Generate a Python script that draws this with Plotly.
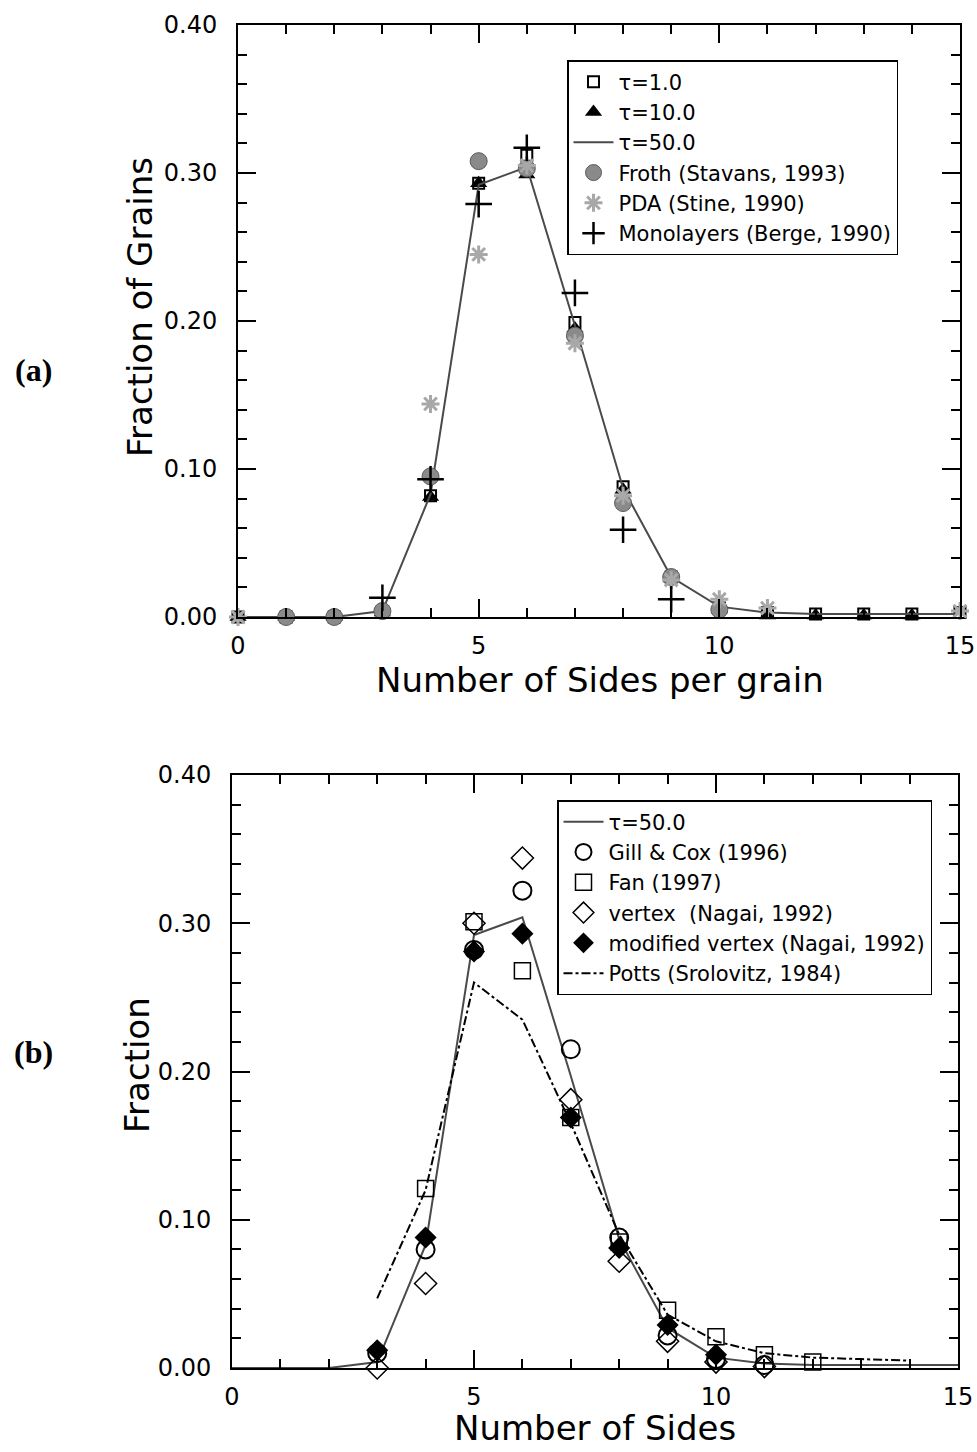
import plotly.graph_objects as go

# ---------------- Data: panel (a) ----------------
xa_tau1 = list(range(0, 16))
tau1 = [0.0, 0.0, 0.0, 0.003, 0.082, 0.293, 0.312, 0.199, 0.088, 0.027, 0.006, 0.003, 0.002, 0.002, 0.002, 0.003]
xa_tau10 = list(range(0, 15))
tau10 = [0.0, 0.0, 0.0, 0.003, 0.081, 0.293, 0.299, 0.195, 0.086, 0.026, 0.005, 0.001, 0.001, 0.001, 0.001]
x_tau50 = list(range(0, 16))
tau50 = [0.0, 0.0, 0.0, 0.004, 0.083, 0.292, 0.304, 0.197, 0.087, 0.027, 0.007, 0.003, 0.002, 0.002, 0.002, 0.002]
xa_froth = [1, 2, 3, 4, 5, 6, 7, 8, 9, 10]
froth = [0.0, 0.0, 0.004, 0.095, 0.308, 0.303, 0.190, 0.077, 0.027, 0.005]
xa_pda = [0, 4, 5, 6, 7, 8, 9, 10, 11, 15]
pda = [0.0, 0.144, 0.245, 0.305, 0.185, 0.082, 0.025, 0.012, 0.006, 0.004]
xa_mono = [3, 4, 5, 6, 7, 8, 9]
mono = [0.013, 0.093, 0.279, 0.317, 0.219, 0.059, 0.012]

# ---------------- Data: panel (b) ----------------
xb_gill = [3, 4, 5, 6, 7, 8, 9, 10, 11]
gill = [0.010, 0.080, 0.282, 0.322, 0.215, 0.088, 0.022, 0.006, 0.002]
xb_fan = [4, 5, 6, 7, 8, 9, 10, 11, 12]
fan = [0.121, 0.301, 0.268, 0.169, 0.085, 0.039, 0.021, 0.009, 0.004]
xb_vertex = [3, 4, 5, 6, 7, 8, 9, 10, 11]
vertex = [0.0, 0.057, 0.300, 0.344, 0.181, 0.072, 0.018, 0.004, 0.001]
xb_modv = [3, 4, 5, 6, 7, 8, 9, 10, 11]
modv = [0.012, 0.088, 0.281, 0.293, 0.169, 0.081, 0.029, 0.009, -0.001]
xb_potts = [3, 4, 5, 6, 7, 8, 9, 10, 11, 12, 13, 14]
potts = [0.047, 0.120, 0.260, 0.235, 0.165, 0.090, 0.036, 0.018, 0.010, 0.007, 0.006, 0.005]

y_ticks = [0.0, 0.1, 0.2, 0.3, 0.4]
y_ticklabels = ["0.00", "0.10", "0.20", "0.30", "0.40"]
x_ticks = [0, 5, 10, 15]
x_ticklabels = ["0", "5", "10", "15"]

FONT = "DejaVu Sans"
LINE_GREY = "#4a4a4a"
W, H = 977, 1452

fig = go.Figure()

# panel (a)
fig.add_trace(go.Scatter(x=xa_tau1, y=tau1, mode="markers", name="τ=1.0",
                         marker=dict(symbol="square-open", size=11, color="black", line=dict(width=2)),
                         xaxis="x", yaxis="y", legend="legend", cliponaxis=False))
fig.add_trace(go.Scatter(x=xa_tau10, y=tau10, mode="markers", name="τ=10.0",
                         marker=dict(symbol="triangle-up", size=15, color="black"),
                         xaxis="x", yaxis="y", legend="legend", cliponaxis=False))
fig.add_trace(go.Scatter(x=x_tau50, y=tau50, mode="lines", name="τ=50.0",
                         line=dict(color=LINE_GREY, width=2),
                         xaxis="x", yaxis="y", legend="legend"))
fig.add_trace(go.Scatter(x=xa_froth, y=froth, mode="markers", name="Froth (Stavans, 1993)",
                         marker=dict(symbol="circle", size=17, color="#8a8a8a", line=dict(color="#5a5a5a", width=1)),
                         xaxis="x", yaxis="y", legend="legend", cliponaxis=False))
fig.add_trace(go.Scatter(x=xa_pda, y=pda, mode="markers", name="PDA (Stine, 1990)",
                         marker=dict(symbol="asterisk-open", size=15, color="#a8a8a8", line=dict(color="#a8a8a8", width=3)),
                         xaxis="x", yaxis="y", legend="legend", cliponaxis=False))
fig.add_trace(go.Scatter(x=xa_mono, y=mono, mode="markers", name="Monolayers (Berge, 1990)",
                         marker=dict(symbol="cross-thin-open", size=19, color="black", line=dict(color="black", width=2.5)),
                         xaxis="x", yaxis="y", legend="legend", cliponaxis=False))

# panel (b)
fig.add_trace(go.Scatter(x=x_tau50, y=tau50, mode="lines", name="τ=50.0",
                         line=dict(color=LINE_GREY, width=2),
                         xaxis="x2", yaxis="y2", legend="legend2"))
fig.add_trace(go.Scatter(x=xb_gill, y=gill, mode="markers", name="Gill &amp; Cox (1996)",
                         marker=dict(symbol="circle-open", size=18, color="black", line=dict(width=2)),
                         xaxis="x2", yaxis="y2", legend="legend2", cliponaxis=False))
fig.add_trace(go.Scatter(x=xb_fan, y=fan, mode="markers", name="Fan (1997)",
                         marker=dict(symbol="square-open", size=16, color="black", line=dict(width=1.5)),
                         xaxis="x2", yaxis="y2", legend="legend2", cliponaxis=False))
fig.add_trace(go.Scatter(x=xb_vertex, y=vertex, mode="markers", name="vertex  (Nagai, 1992)",
                         marker=dict(symbol="diamond-open", size=17, color="black", line=dict(width=1.5)),
                         xaxis="x2", yaxis="y2", legend="legend2", cliponaxis=False))
fig.add_trace(go.Scatter(x=xb_modv, y=modv, mode="markers", name="modified vertex (Nagai, 1992)",
                         marker=dict(symbol="diamond", size=17, color="black"),
                         xaxis="x2", yaxis="y2", legend="legend2", cliponaxis=False))
fig.add_trace(go.Scatter(x=xb_potts, y=potts, mode="lines", name="Potts (Srolovitz, 1984)",
                         line=dict(color="black", width=2, dash="dashdot"),
                         xaxis="x2", yaxis="y2", legend="legend2"))

axis_common = dict(
    showline=True, linecolor="black", linewidth=2, mirror="ticks",
    ticks="inside", ticklen=18, tickwidth=2, tickcolor="black",
    showgrid=False, zeroline=False, automargin=False,
    tickfont=dict(family=FONT, size=24, color="black"),
)

xa = dict(axis_common, range=[0, 15], tickvals=x_ticks, ticktext=x_ticklabels, ticklabelstandoff=6,
          minor=dict(dtick=1, ticks="inside", ticklen=9, tickwidth=2, tickcolor="black", showgrid=False))
ya = dict(axis_common, range=[0, 0.4], tickvals=y_ticks, ticktext=y_ticklabels, ticklabelstandoff=14,
          minor=dict(dtick=0.02, tick0=0, ticks="inside", ticklen=9, tickwidth=2, tickcolor="black", showgrid=False))

legend_common = dict(xanchor="left", yanchor="top", bordercolor="black", borderwidth=1.5,
                     bgcolor="white", font=dict(family=FONT, size=21, color="black"),
                     tracegroupgap=0, itemwidth=40)

fig.update_layout(
    width=W, height=H,
    margin=dict(l=0, r=0, t=0, b=0),
    paper_bgcolor="white", plot_bgcolor="white",
    font=dict(family=FONT, color="black"),
    xaxis=dict(xa, domain=[238/W, 960/W], anchor="y"),
    yaxis=dict(ya, domain=[1-617/H, 1-25/H], anchor="x"),
    xaxis2=dict(xa, domain=[232/W, 958/W], anchor="y2"),
    yaxis2=dict(ya, domain=[1-1368/H, 1-775/H], anchor="x2"),
    legend=dict(legend_common, x=567/W, y=1-60/H),
    legend2=dict(legend_common, x=557/W, y=1-800/H),
    showlegend=True,
)

def label(text, x, y, size, angle=0, family=FONT):
    fig.add_annotation(text=text, x=x/W, y=1-y/H, xref="paper", yref="paper",
                       xanchor="center", yanchor="middle", showarrow=False, textangle=angle,
                       font=dict(family=family, size=size, color="black"))

# axis titles
label("Number of Sides per grain", 600, 680, 34)
label("Fraction of Grains", 140, 307, 34, angle=-90)
label("Number of Sides", 595, 1428, 34)
label("Fraction", 137, 1065, 34, angle=-90)
# panel labels
label("<b>(a)</b>", 33, 370, 32, family="Liberation Serif")
label("<b>(b)</b>", 33, 1052, 32, family="Liberation Serif")

fig.write_html("out.html")
